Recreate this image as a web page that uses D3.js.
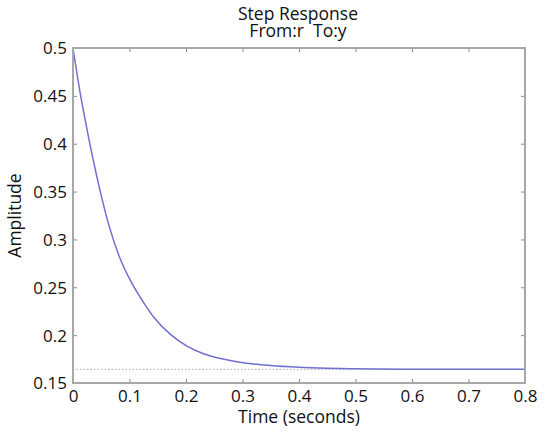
<!DOCTYPE html>
<html>
<head>
<meta charset="utf-8">
<script src="https://cdn.jsdelivr.net/npm/d3@7"></script>
<style>
  body { margin: 0; background: #fff; }
  text { font-family: "Open Sans", Lato, sans-serif; fill: #111; }
</style>
</head>
<body>
<div id="chart"></div>
<script>
// values
const timeValues = [0, 0.013, 0.0248, 0.0365, 0.0483, 0.063, 0.0807, 0.1044, 0.125, 0.1427, 0.172,
                    0.2018, 0.231, 0.261, 0.290, 0.320, 0.349, 0.40, 0.45, 0.50, 0.55, 0.60, 0.70, 0.80];
const amplitudeValues = [0.5, 0.452, 0.415, 0.381, 0.350, 0.316, 0.284, 0.254, 0.234, 0.219, 0.201,
                         0.1885, 0.1805, 0.1755, 0.1722, 0.1698, 0.1682, 0.1664, 0.1654, 0.1648, 0.1645, 0.1644, 0.1643, 0.1643];
const finalValue = 0.1643;
const xTicks = [0, 0.1, 0.2, 0.3, 0.4, 0.5, 0.6, 0.7, 0.8];
const yTicks = [0.15, 0.2, 0.25, 0.3, 0.35, 0.4, 0.45, 0.5];

const width = 550, height = 433;
const margin = { top: 48, right: 25, bottom: 50, left: 73 };

const svg = d3.select("#chart").append("svg")
    .attr("width", width)
    .attr("height", height);

const x = d3.scaleLinear().domain([0, 0.8]).range([margin.left, width - margin.right]);
const y = d3.scaleLinear().domain([0.15, 0.5]).range([height - margin.bottom, margin.top]);

const axisColor = "#a8a8a8";
const tickLen = 4;

// steady-state dotted line
svg.append("line")
    .attr("x1", x(0)).attr("x2", x(0.8))
    .attr("y1", y(finalValue)).attr("y2", y(finalValue))
    .attr("stroke", "#aaa")
    .attr("stroke-width", 1)
    .attr("stroke-dasharray", "1.5,2");

// response curve
const line = d3.line()
    .x((d, i) => x(timeValues[i]))
    .y(d => y(d))
    .curve(d3.curveMonotoneX);

svg.append("path")
    .datum(amplitudeValues)
    .attr("d", line)
    .attr("fill", "none")
    .attr("stroke", "#7070d0")
    .attr("stroke-width", 1.5);

// axes: ticks pointing inward on all four sides
const axisB = svg.append("g")
    .attr("transform", `translate(0,${height - margin.bottom})`)
    .call(d3.axisBottom(x).tickValues(xTicks).tickSize(-tickLen).tickPadding(7)
        .tickFormat(d3.format("")));
const axisT = svg.append("g")
    .attr("transform", `translate(0,${margin.top})`)
    .call(d3.axisTop(x).tickValues(xTicks).tickSize(-tickLen).tickFormat(""));
const axisL = svg.append("g")
    .attr("transform", `translate(${margin.left},0)`)
    .call(d3.axisLeft(y).tickValues(yTicks).tickSize(-tickLen).tickPadding(6)
        .tickFormat(d3.format("")));
const axisR = svg.append("g")
    .attr("transform", `translate(${width - margin.right},0)`)
    .call(d3.axisRight(y).tickValues(yTicks).tickSize(-tickLen).tickFormat(""));

[axisB, axisT, axisL, axisR].forEach(g => {
    g.select(".domain").remove();
    g.selectAll(".tick line").attr("stroke", "#888").attr("stroke-width", 1);
    g.selectAll(".tick text").attr("font-size", 17).attr("fill", "#111")
        .style("font-family", "'Open Sans', Lato, sans-serif");
});
axisB.selectAll(".tick text").attr("dy", "0.72em");
axisL.selectAll(".tick text").attr("dy", "0.35em");

// plot box
svg.append("rect")
    .attr("x", margin.left).attr("y", margin.top)
    .attr("width", width - margin.left - margin.right)
    .attr("height", height - margin.top - margin.bottom)
    .attr("fill", "none")
    .attr("stroke", axisColor)
    .attr("stroke-width", 2);

// titles
svg.append("text")
    .attr("x", 298).attr("y", 20)
    .attr("text-anchor", "middle")
    .attr("font-size", 17.5)
    .text("Step Response");
svg.append("text")
    .attr("x", 298).attr("y", 37)
    .attr("text-anchor", "middle")
    .attr("font-size", 17.5)
    .style("white-space", "pre")
    .text("From:r  To:y");

svg.append("text")
    .attr("x", 299).attr("y", 423)
    .attr("text-anchor", "middle")
    .attr("font-size", 17.5)
    .text("Time (seconds)");

svg.append("text")
    .attr("transform", `translate(21,${(margin.top + height - margin.bottom) / 2}) rotate(-90)`)
    .attr("text-anchor", "middle")
    .attr("font-size", 17.5)
    .text("Amplitude");
</script>
</body>
</html>
